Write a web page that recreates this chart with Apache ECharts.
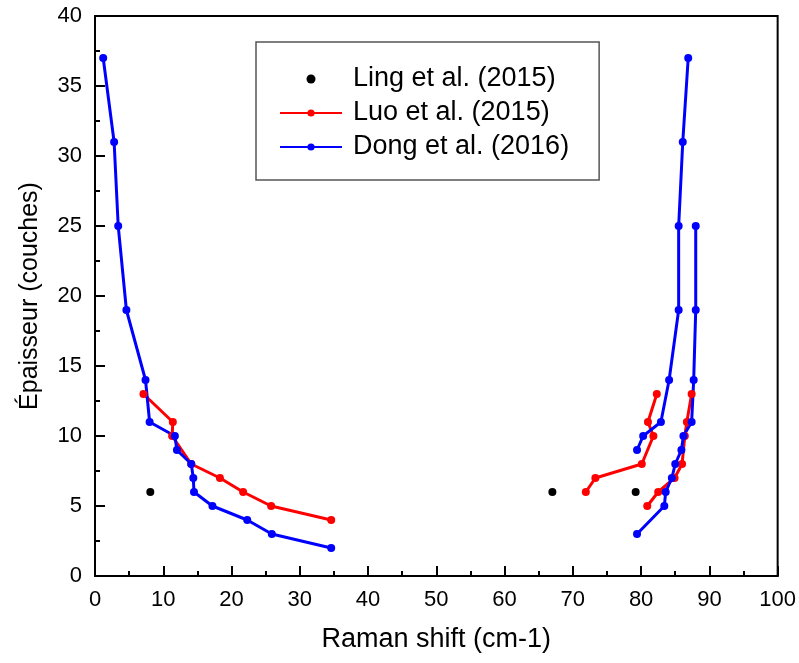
<!DOCTYPE html>
<html>
<head>
<meta charset="utf-8">
<script src="https://cdn.jsdelivr.net/npm/echarts@6/dist/echarts.min.js"></script>
<style>html,body{margin:0;padding:0;background:#fff}#c{width:799px;height:663px}</style>
</head>
<body>
<div id="c"></div>
<script>
// ---- data ----
const lingX = [8.1, 67.0, 79.2];
const lingY = [6, 6, 6];

const luoLeftX = [7.1, 11.4, 11.3, 14.1, 18.3, 21.7, 25.8, 34.6];
const luoLeftY = [13, 11, 10, 8, 7, 6, 5, 4];
const luoRight1X = [82.3, 81.0, 81.8, 80.1, 73.3, 71.9];
const luoRight1Y = [13, 11, 10, 8, 7, 6];
const luoRight2X = [87.4, 86.7, 86.4, 86.0, 84.9, 82.5, 80.9];
const luoRight2Y = [13, 11, 10, 8, 7, 6, 5];

const dongLeftX = [1.2, 2.8, 3.4, 4.6, 7.4, 8.0, 11.7, 12.0, 14.1, 14.4, 14.5, 17.2, 22.3, 25.9, 34.6];
const dongLeftY = [37, 31, 25, 19, 14, 11, 10, 9, 8, 7, 6, 5, 4, 3, 2];
const dongRightAX = [86.9, 86.1, 85.5, 85.5, 84.1, 82.9, 80.3, 79.4];
const dongRightAY = [37, 31, 25, 19, 14, 11, 10, 9];
const dongRightBX = [88.0, 88.0, 87.7, 87.4, 86.2, 85.9, 85.0, 84.5, 83.6, 83.4, 79.4];
const dongRightBY = [25, 19, 14, 11, 10, 9, 8, 7, 6, 5, 3];

const names = ['Ling et al. (2015)', 'Luo et al. (2015)', 'Dong et al. (2016)'];
const xTicks = {min: 0, max: 100, interval: 10};
const yTicks = {min: 0, max: 40, interval: 5};

const pairs = (xs, ys) => xs.map((x, i) => [x, ys[i]]);
const FONT = '"Liberation Sans", Arial, sans-serif';

function lineSeries(name, color, xs, ys) {
  return {
    name: name, type: 'line', data: pairs(xs, ys),
    symbol: 'circle', symbolSize: 8, showSymbol: true,
    lineStyle: {color: color, width: 3},
    itemStyle: {color: color},
    animation: false, z: 2
  };
}

const chart = echarts.init(document.getElementById('c'), null, {renderer: 'canvas'});
const axisCommon = {
  axisLine: {show: true, lineStyle: {color: '#000', width: 2}},
  axisTick: {show: true, inside: true, length: 10, lineStyle: {color: '#000', width: 2}},
  minorTick: {show: true, splitNumber: 2, length: 5, lineStyle: {color: '#000', width: 2}},
  splitLine: {show: false},
  axisLabel: {color: '#000', fontSize: 22, fontFamily: FONT, margin: 13}
};

chart.setOption({
  backgroundColor: '#fff',
  animation: false,
  grid: {left: 95, right: 20, top: 16, bottom: 87, show: true, borderColor: '#000', borderWidth: 2, backgroundColor: 'transparent'},
  xAxis: Object.assign({}, axisCommon, {
    type: 'value', min: xTicks.min, max: xTicks.max, interval: xTicks.interval,
    name: 'Raman shift (cm-1)', nameLocation: 'middle', nameGap: 50,
    nameTextStyle: {color: '#000', fontSize: 27, fontFamily: FONT}
  }),
  yAxis: Object.assign({}, axisCommon, {
    type: 'value', min: yTicks.min, max: yTicks.max, interval: yTicks.interval,
    name: 'Épaisseur (couches)', nameLocation: 'middle', nameGap: 52,
    nameTextStyle: {color: '#000', fontSize: 25, fontFamily: FONT}
  }),
  legend: {
    data: names, orient: 'vertical', left: 256, top: 42,
    backgroundColor: '#fff', borderColor: '#555', borderWidth: 1.5,
    padding: [20, 30, 16, 23], itemGap: 0, itemWidth: 62, itemHeight: 9,
    textStyle: {color: '#000', fontSize: 27, fontFamily: FONT, lineHeight: 34, padding: [0, 0, 0, 6]}
  },
  series: [
    lineSeries(names[1], '#ff0000', luoLeftX, luoLeftY),
    lineSeries(names[1], '#ff0000', luoRight1X, luoRight1Y),
    lineSeries(names[1], '#ff0000', luoRight2X, luoRight2Y),
    lineSeries(names[2], '#0000ff', dongLeftX, dongLeftY),
    lineSeries(names[2], '#0000ff', dongRightAX, dongRightAY),
    lineSeries(names[2], '#0000ff', dongRightBX, dongRightBY),
    {name: names[0], type: 'scatter', data: pairs(lingX, lingY), symbol: 'circle', symbolSize: 8, itemStyle: {color: '#000', opacity: 1}, z: 3}
  ]
});
</script>
</body>
</html>
